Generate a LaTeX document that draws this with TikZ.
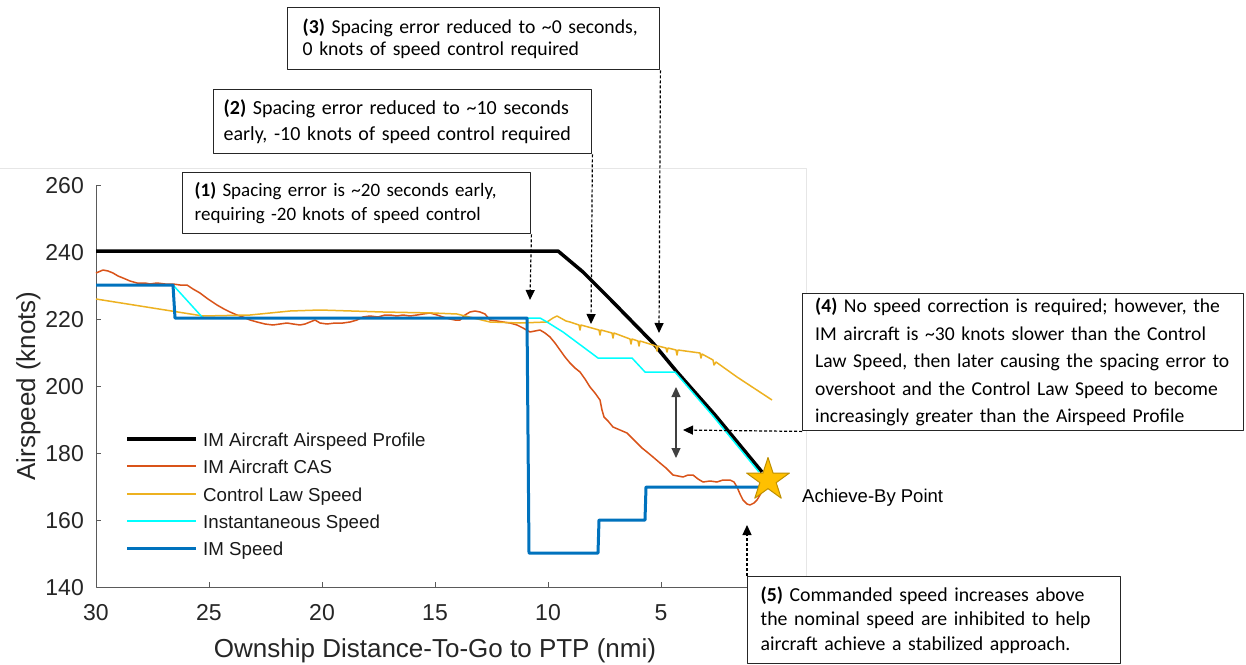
\documentclass[tikz,border=0pt]{standalone}
\usepackage{fontspec}
\setmainfont{Carlito}
\newfontfamily\arialf{Liberation Sans}
\usetikzlibrary{arrows.meta,shapes.geometric}
\definecolor{cas}{HTML}{D95319}
\definecolor{cls}{HTML}{EDB120}
\definecolor{ims}{HTML}{0072BD}
\definecolor{inst}{HTML}{00FFFF}
\definecolor{stary}{HTML}{FFC000}
\definecolor{stard}{HTML}{BF9000}
\definecolor{axc}{HTML}{5A5A5A}
\definecolor{frm}{HTML}{E6E6E6}
\begin{document}
\begin{tikzpicture}[x=1pt,y=-1pt,
  line join=round,
  note/.style={draw=black!85,line width=1.4pt,fill=white,anchor=north west,align=left,inner xsep=12pt,inner ysep=0pt},
  callout/.style={line width=1.2pt,dash pattern=on 3pt off 2pt,-{Triangle[length=10pt,width=9pt]}},
  dbl/.style={line width=1.1pt,black!75,{Triangle[length=10pt,width=9pt]}-{Triangle[length=10pt,width=9pt]}},
  prof/.style={black,line width=3.5pt},
  casl/.style={cas,line width=1.5pt},
  clsl/.style={cls,line width=1.5pt},
  instl/.style={inst,line width=1.5pt},
  imsl/.style={ims,line width=3pt},
  ticklab/.style={font=\arialf\fontsize{23}{25}\selectfont,inner sep=0pt,text=black!85},
  axtitle/.style={font=\arialf\fontsize{26}{28}\selectfont,inner sep=0pt,text=black!85},
  leglab/.style={font=\arialf\fontsize{18.7}{20}\selectfont,inner sep=0pt,anchor=base west,text=black!90}]
\useasboundingbox (0,0) rectangle (1246,664);
\fill[white] (0,0) rectangle (1246,664);
% frame
\draw[frm,line width=1pt] (0,168) -- (806,168) -- (806,587);
% axes
\draw[axc,line width=1pt] (96,185) -- (96,587) -- (806,587);
\foreach \v/\yy in {160/520,180/453,200/386,220/319,240/252,260/185}
  \draw[axc,line width=1pt] (96,\yy) -- (101,\yy);
\foreach \d/\xx in {25/209,20/322,15/435,10/548,5/661}
  \draw[axc,line width=1pt] (\xx,587) -- (\xx,582);
\foreach \v/\yy in {140/587,160/520,180/453,200/386,220/319,240/252,260/185}
  \node[ticklab,anchor=base east] (yl\v) at (84,\yy+8) {\v};
\foreach \d/\xx in {30/96,25/209,20/322,15/435,10/548,5/661}
  \node[ticklab,anchor=base] (xl\d) at (\xx,620) {\d};
\node[axtitle,anchor=base] (xt) at (435,657) {Ownship Distance-To-Go to PTP (nmi)};
\node[axtitle,anchor=base,rotate=90] (yt) at (35,386) {Airspeed (knots)};
% curves
\draw[prof] (96,251) -- (558,251) -- (583,272) -- (610,299) -- (653,343) -- (677,372) -- (715,415) -- (762,472);
\draw[casl] (96,273) -- (103,270) -- (108,271) -- (113,273) -- (118,276) -- (123,278) -- (130,281) -- (137,283) -- (145,283) -- (150,284) -- (157,283) -- (165,284) -- (173,284) -- (180,285) -- (187,285) -- (193,289) -- (200,293) -- (208,299) -- (217,305) -- (224,309) -- (230,312) -- (237,315) -- (243,317) -- (250,320) -- (257,322) -- (265,324) -- (273,325) -- (280,324) -- (287,323) -- (293,324) -- (300,325) -- (305,324) -- (310,322) -- (315,320) -- (320,323) -- (327,324) -- (335,323) -- (343,323) -- (350,322) -- (357,320) -- (363,317) -- (370,316) -- (378,317) -- (385,315) -- (390,315) -- (397,316) -- (403,315) -- (410,316) -- (417,315) -- (423,314) -- (430,313) -- (437,315) -- (443,317) -- (450,319) -- (455,320) -- (460,320) -- (465,315) -- (470,312) -- (475,311) -- (480,312) -- (485,314) -- (490,320) -- (497,321) -- (503,322) -- (510,323) -- (517,325) -- (523,328) -- (530,332) -- (535,331) -- (540,330) -- (545,333) -- (550,337) -- (555,343) -- (560,350) -- (565,357) -- (570,363) -- (575,368) -- (580,372) -- (585,379) -- (590,387) -- (595,393) -- (600,400) -- (602,410) -- (604,417) -- (608,421) -- (613,427) -- (620,430) -- (627,433) -- (632,438) -- (637,443) -- (642,448) -- (647,452) -- (653,457) -- (660,463) -- (666,468) -- (673,475) -- (678,476) -- (683,477) -- (688,475) -- (693,475) -- (698,479) -- (703,482) -- (710,481) -- (717,482) -- (723,480) -- (730,480) -- (734,482) -- (737,487) -- (740,494) -- (743,500) -- (747,504) -- (750,505) -- (754,503) -- (757,500) -- (760,495) -- (763,490);
\draw[clsl] (96,299) -- (203,316) -- (250,315) -- (290,311) -- (320,310) -- (383,312) -- (433,313) -- (457,314) -- (490,322) -- (520,323) -- (547,322) -- (553,318) -- (557,316) -- (566,321) -- (570,322) -- (579,325) -- (580,330) -- (581,325) -- (599,330) -- (600,335) -- (601,330) -- (612,333) -- (613,338) -- (614,333) -- (630,339) -- (631,344) -- (632,339) -- (638,341) -- (639,346) -- (640,341) -- (653,345) -- (656,346) -- (657,351) -- (658,346) -- (666,348) -- (667,352) -- (668,348) -- (676,350) -- (677,355) -- (678,350) -- (700,353) -- (701,358) -- (702,354) -- (713,360) -- (714,365) -- (716,362) -- (737,377) -- (772,400);
\draw[instl] (96,285) -- (173,285) -- (203,318) -- (527,318) -- (540,318) -- (547,322) -- (563,332) -- (598,358) -- (632,358) -- (645,372) -- (675,372) -- (713,416) -- (759,472);
\draw[imsl] (96,285) -- (173,285) -- (175,318) -- (527,318) -- (529,553) -- (598,553) -- (599,520) -- (645,520) -- (646,487) -- (768,487);
% star and label
\node[star,star points=5,star point ratio=2.618,minimum size=45pt,inner sep=0pt,fill=stary,draw=stard,line width=1pt] (abp) at (768,480) {};
\node[anchor=base west,inner sep=0pt,font=\arialf\fontsize{18.5}{20}\selectfont] (abl) at (802,502) {Achieve-By Point};
% legend
\draw[prof] (127,439) -- (196,439);
\draw[casl] (127,466) -- (196,466);
\draw[clsl] (127,494) -- (196,494);
\draw[instl,line width=1.2pt] (127,521) -- (196,521);
\draw[imsl] (127,548) -- (196,548);
\node[leglab] (lg1) at (203,446) {IM Aircraft Airspeed Profile};
\node[leglab] (lg2) at (203,473) {IM Aircraft CAS};
\node[leglab] (lg3) at (203,501) {Control Law Speed};
\node[leglab] (lg4) at (203,528) {Instantaneous Speed};
\node[leglab] (lg5) at (203,555) {IM Speed};
% annotation boxes
\node[note,minimum width=348pt,minimum height=61pt,text width=324pt,font=\fontsize{19}{24}\selectfont] (n1) at (182,172)
  {\textbf{(1)} Spacing error is \textasciitilde20 seconds early,\\requiring -20 knots of speed control};
\node[note,minimum width=378pt,minimum height=64pt,text width=358pt,inner xsep=10pt,font=\fontsize{20}{26}\selectfont] (n2) at (213,89)
  {\textbf{(2)} Spacing error reduced to \textasciitilde10 seconds\\early, -10 knots of speed control required};
\node[note,minimum width=372pt,minimum height=62pt,text width=342pt,inner xsep=15pt,font=\fontsize{19.7}{22}\selectfont] (n3) at (287,7)
  {\textbf{(3)} Spacing error reduced to \textasciitilde0 seconds,\\0 knots of speed control required};
\node[note,minimum width=441pt,minimum height=137pt,text width=416pt,inner xsep=12.5pt,font=\fontsize{19.6}{27.5}\selectfont] (n4) at (802,293)
  {\textbf{(4)} No speed correction is required; however, the\\IM aircraft is \textasciitilde30 knots slower than the Control\\Law Speed, then later causing the spacing error to\\overshoot and the Control Law Speed to become\\increasingly greater than the Airspeed Profile};
\node[note,minimum width=373pt,minimum height=87pt,text width=347pt,inner xsep=13pt,font=\fontsize{19.8}{24.5}\selectfont] (n5) at (747,576)
  {\textbf{(5)} Commanded speed increases above\\the nominal speed are inhibited to help\\aircraft achieve a stabilized approach.};
% callout arrows
\coordinate (t1) at (530,300);
\coordinate (t2) at (591,324);
\coordinate (t3) at (659,333);
\coordinate (t4) at (683,430);
\coordinate (t5) at (747,525);
\draw[callout] (n1.south east) -- (t1);
\draw[callout] (n2.south east) -- (t2);
\draw[callout] (n3.south east) -- (t3);
\draw[callout] (n4.south west) -- (t4);
\draw[callout] (n5.north west) -- (t5);
\coordinate (da1) at (676,387);
\coordinate (da2) at (676,458);
\draw[dbl] (da1) -- (da2);
\end{tikzpicture}
\end{document}
